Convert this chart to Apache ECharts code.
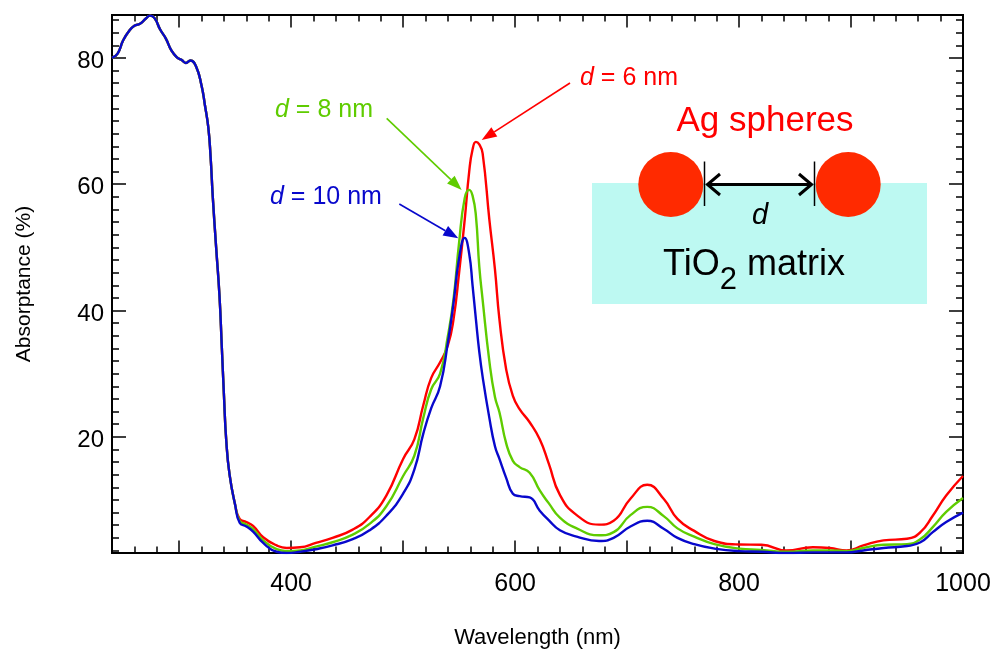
<!DOCTYPE html>
<html>
<head>
<meta charset="utf-8">
<script src="https://cdn.jsdelivr.net/npm/echarts@6.0.0/dist/echarts.min.js"></script>
<style>
  html, body { margin: 0; padding: 0; background: #fff; }
  #chart { width: 997px; height: 654px; }
</style>
</head>
<body>
<div id="chart"></div>
<script>
// Absorptance spectra of Ag sphere arrays in a TiO2 matrix, three gap sizes d
const wavelength = [
  240, 245, 250, 255, 260, 265, 270, 274, 278, 283, 288, 293, 298, 302, 306, 310,
  315, 320, 323, 326, 328, 330, 333, 336, 338, 340, 342, 345, 350, 354, 360, 366,
  375, 387, 396, 408, 422, 437, 455, 470, 485, 500, 510, 518, 525, 533, 540, 545,
  550, 555, 559, 562, 565, 568, 571, 577, 582, 586, 592, 598, 604, 613, 622, 630,
  640, 655, 675, 688, 703, 718, 733, 745, 760, 778, 800, 820, 842, 866, 881, 896,
  911, 929, 950, 962, 973, 985, 1000
];
const absD6 = [
  80.0, 80.7, 82.8, 84.2, 85.1, 85.4, 86.2, 86.7, 86.3, 84.5, 83.1, 81.2, 80.1, 79.7, 79.2, 79.6,
  78.7, 75.6, 72.5, 69.0, 64.5, 58.0, 50.0, 42.3, 34.5, 26.5, 19.5, 14.0, 9.2, 7.0, 6.5, 5.9,
  4.1, 2.8, 2.4, 2.5, 3.2, 4.0, 5.3, 7.3, 10.7, 16.5, 19.6, 25.0, 29.3, 31.8, 34.5, 38.6,
  46.0, 54.4, 62.0, 65.5, 66.7, 66.3, 64.9, 54.4, 46.5, 38.6, 30.7, 26.5, 24.4, 22.3, 19.6, 15.8,
  10.8, 7.6, 6.1, 6.7, 10.2, 12.4, 10.1, 7.0, 5.1, 3.5, 2.95, 2.9, 2.0, 2.5, 2.4, 2.0,
  2.8, 3.6, 3.85, 4.9, 7.5, 10.7, 13.8
];
const absD8 = [
  80.0, 80.7, 82.8, 84.2, 85.1, 85.4, 86.2, 86.7, 86.3, 84.5, 83.1, 81.2, 80.1, 79.7, 79.2, 79.6,
  78.7, 75.6, 72.5, 69.0, 64.5, 58.0, 50.0, 42.3, 34.5, 26.5, 19.5, 14.0, 9.2, 6.7, 6.1, 5.4,
  3.6, 2.2, 1.9, 2.0, 2.6, 3.3, 4.5, 6.2, 9.0, 13.8, 17.0, 23.0, 27.5, 30.0, 36.0, 41.8,
  50.8, 57.8, 59.1, 58.2, 55.0, 47.0, 41.7, 32.0, 26.3, 23.9, 19.0, 16.2, 15.2, 14.3, 11.5, 9.5,
  7.2, 5.5, 4.4, 4.9, 7.6, 8.9, 7.4, 5.5, 4.2, 3.0, 2.3, 2.1, 1.8, 2.0, 2.0, 1.9,
  2.4, 2.9, 3.0, 3.8, 5.7, 8.1, 10.3
];
const absD10 = [
  80.0, 80.7, 82.8, 84.2, 85.1, 85.4, 86.2, 86.7, 86.3, 84.5, 83.1, 81.2, 80.1, 79.7, 79.2, 79.6,
  78.7, 75.6, 72.5, 69.0, 64.5, 58.0, 50.0, 42.3, 34.5, 26.5, 19.5, 14.0, 9.2, 6.4, 5.8, 5.0,
  3.2, 1.8, 1.6, 1.8, 2.2, 2.8, 3.8, 5.2, 7.5, 11.0, 14.8, 20.5, 24.5, 28.0, 35.0, 41.2,
  48.3, 51.5, 49.0, 44.0, 38.6, 33.5, 29.5, 23.0, 18.5, 16.5, 13.5, 11.0, 10.6, 10.4, 8.3, 6.8,
  5.2, 4.2, 3.5, 4.0, 5.8, 6.7, 5.4, 4.0, 3.0, 2.3, 1.9, 1.8, 1.6, 1.7, 1.7, 1.7,
  2.0, 2.4, 2.7, 3.3, 4.9, 6.5, 8.0
];
const seriesNames = ['d = 6 nm', 'd = 8 nm', 'd = 10 nm'];
const xTickLabels = [400, 600, 800, 1000];
const yTickLabels = [20, 40, 60, 80];

const X_MIN = 240, X_MAX = 1000;
const Y_MIN = 1.6, Y_MAX = 86.8;
const FONT = '"Liberation Sans", Arial, Helvetica, sans-serif';
const RED = '#ff0000', GREEN = '#5fcc00', BLUE = '#0808cc';

// tick positions: 100 nm long ticks, 20 nm short ticks; 20 % long, 2 % short
const xMajorTicks = [], xMinorTicks = [], yMinorTicks = [];
for (let w = 260; w <= 1000; w += 20) {
  if (w % 100 === 0) xMajorTicks.push(w); else xMinorTicks.push(w);
}
for (let v = 2; v <= 86; v += 2) {
  if (v % 20 !== 0) yMinorTicks.push(v);
}

function frameAxis(pos, min, max, ticks, len, extra) {
  return Object.assign({
    type: 'value', position: pos, min: min, max: max,
    axisLine: { show: true, onZero: false, lineStyle: { color: '#000', width: 2 } },
    axisTick: { show: true, inside: true, length: len, customValues: ticks,
                lineStyle: { color: '#000', width: 1.5 } },
    axisLabel: { show: false },
    splitLine: { show: false }
  }, extra || {});
}

const xAxes = [
  frameAxis('bottom', X_MIN, X_MAX, xMajorTicks, 12.5, {
    axisLabel: { show: true, customValues: xTickLabels, margin: 19, formatter: v => String(v),
                 fontSize: 25, fontFamily: FONT, color: '#000' },
    name: 'Wavelength (nm)', nameLocation: 'middle', nameGap: 74,
    nameTextStyle: { fontSize: 22, fontFamily: FONT, color: '#000' }
  }),
  frameAxis('bottom', X_MIN, X_MAX, xMinorTicks, 6.5),
  frameAxis('top', X_MIN, X_MAX, xMajorTicks, 12.5),
  frameAxis('top', X_MIN, X_MAX, xMinorTicks, 6.5)
];
const yAxes = [
  frameAxis('left', Y_MIN, Y_MAX, yTickLabels, 14, {
    axisLabel: { show: true, customValues: yTickLabels, margin: 8,
                 formatter: v => '{a|' + v + '}',
                 rich: { a: { padding: [7, 0, 0, 0], fontSize: 24, fontFamily: FONT, color: '#000' } },
                 fontSize: 24, fontFamily: FONT, color: '#000' },
    name: 'Absorptance (%)', nameLocation: 'middle', nameGap: 77,
    nameTextStyle: { fontSize: 21, fontFamily: FONT, color: '#000' }
  }),
  frameAxis('left', Y_MIN, Y_MAX, yMinorTicks, 7),
  frameAxis('right', Y_MIN, Y_MAX, yTickLabels, 14),
  frameAxis('right', Y_MIN, Y_MAX, yMinorTicks, 7)
];

function spectrum(name, values, color) {
  return {
    name: name, type: 'line', xAxisIndex: 0, yAxisIndex: 0,
    data: wavelength.map((w, i) => [w, values[i]]),
    showSymbol: false, smooth: 0.5,
    lineStyle: { color: color, width: 2.4 }, itemStyle: { color: color },
    clip: true
  };
}

// arrow from (x1,y1) with a filled head at (x2,y2)
function arrow(x1, y1, x2, y2, color) {
  const dx = x2 - x1, dy = y2 - y1, L = Math.hypot(dx, dy);
  const ux = dx / L, uy = dy / L, head = 15, half = 5.5;
  const bx = x2 - ux * head, by = y2 - uy * head;
  return [
    { type: 'line', z: 50, shape: { x1: x1, y1: y1, x2: bx, y2: by },
      style: { stroke: color, lineWidth: 1.6 } },
    { type: 'polygon', z: 50,
      shape: { points: [[x2, y2], [bx - uy * half, by + ux * half], [bx + uy * half, by - ux * half]] },
      style: { fill: color } }
  ];
}

function label(text, x, y, color, size, align) {
  return {
    type: 'text', z: 50, x: x, y: y,
    style: {
      text: text, fill: color, fontSize: size, fontFamily: FONT,
      textAlign: align || 'left', textVerticalAlign: 'middle',
      rich: { i: { fontStyle: 'italic', fontSize: size, fontFamily: FONT, fill: color } }
    }
  };
}

const graphics = [].concat(
  [
    label('{i|d} = 6 nm', 580, 78, RED, 25),
    label('{i|d} = 8 nm', 275, 110, GREEN, 25),
    label('{i|d} = 10 nm', 270, 197, BLUE, 25)
  ],
  arrow(570, 83, 481.7, 140, RED),
  arrow(386.7, 118.3, 461.7, 190, GREEN),
  arrow(399.3, 204, 458.3, 238.3, BLUE),
  [
    // TiO2 matrix with two Ag spheres and the gap d between them
    { type: 'rect', z: 40, shape: { x: 592, y: 183, width: 335, height: 121 },
      style: { fill: '#bdf9f2' } },
    { type: 'circle', z: 41, shape: { cx: 670.8, cy: 184.5, r: 32.5 }, style: { fill: '#ff2a00' } },
    { type: 'circle', z: 41, shape: { cx: 848.2, cy: 184.5, r: 32.5 }, style: { fill: '#ff2a00' } },
    { type: 'line', z: 42, shape: { x1: 704.5, y1: 161.5, x2: 704.5, y2: 206 },
      style: { stroke: '#000', lineWidth: 1.5 } },
    { type: 'line', z: 42, shape: { x1: 814.5, y1: 161.5, x2: 814.5, y2: 206 },
      style: { stroke: '#000', lineWidth: 1.5 } },
    { type: 'line', z: 42, shape: { x1: 707, y1: 184.5, x2: 812, y2: 184.5 },
      style: { stroke: '#000', lineWidth: 3 } },
    { type: 'polyline', z: 42, shape: { points: [[720, 174], [707.5, 184.5], [720, 195]] },
      style: { stroke: '#000', lineWidth: 3, fill: null } },
    { type: 'polyline', z: 42, shape: { points: [[799, 174], [811.5, 184.5], [799, 195]] },
      style: { stroke: '#000', lineWidth: 3, fill: null } },
    label('{i|d}', 760, 216, '#000', 29, 'center'),
    label('Ag spheres', 765, 121, RED, 35, 'center'),
    {
      type: 'text', z: 50, x: 663, y: 265,
      style: {
        text: '{n|TiO}{s|2}{n| matrix}', fill: '#000', fontSize: 36, fontFamily: FONT,
        textAlign: 'left', textVerticalAlign: 'middle',
        rich: {
          n: { fontSize: 36, fontFamily: FONT, fill: '#000' },
          s: { fontSize: 31, fontFamily: FONT, fill: '#000', padding: [30, 0, 0, 0] }
        }
      }
    }
  ]
);

const chart = echarts.init(document.getElementById('chart'), null, { renderer: 'canvas' });
chart.setOption({
  animation: false,
  backgroundColor: '#fff',
  grid: { left: 112, right: 34, top: 15, bottom: 100, containLabel: false },
  xAxis: xAxes,
  yAxis: yAxes,
  series: [
    spectrum(seriesNames[0], absD6, RED),
    spectrum(seriesNames[1], absD8, GREEN),
    spectrum(seriesNames[2], absD10, BLUE)
  ],
  graphic: graphics
});
</script>
</body>
</html>
